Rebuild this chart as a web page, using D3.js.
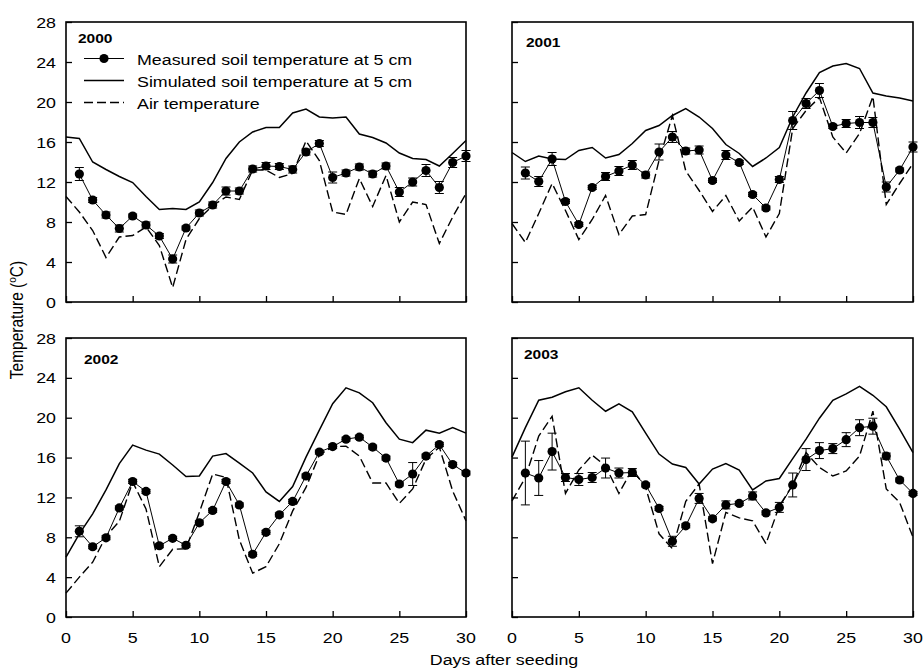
<!DOCTYPE html>
<html>
<head>
<meta charset="utf-8">
<script src="https://cdn.jsdelivr.net/npm/d3@7/dist/d3.min.js"></script>
<style>
  html, body { margin: 0; padding: 0; background: #fff; }
  svg { display: block; }
  text { font-family: "Liberation Sans", Arial, sans-serif; fill: #000; }
</style>
</head>
<body>
<svg id="chart" width="924" height="670"></svg>
<script>
// Days after seeding: measurements start on day 1, model and air series on day 0
const daysMeasured = [1,2,3,4,5,6,7,8,9,10,11,12,13,14,15,16,17,18,19,20,21,22,23,24,25,26,27,28,29,30];
const daysAll = [0,1,2,3,4,5,6,7,8,9,10,11,12,13,14,15,16,17,18,19,20,21,22,23,24,25,26,27,28,29,30];
const xTickValues = [0,5,10,15,20,25,30];
const yTickValues = [0,4,8,12,16,20,24,28];

// 2000
const measured2000 = [12.8,10.2,8.7,7.35,8.6,7.7,6.6,4.3,7.4,8.9,9.7,11.1,11.1,13.3,13.6,13.55,13.25,15.0,15.85,12.45,12.9,13.5,12.8,13.6,11.0,12.0,13.15,11.45,13.95,14.6];
const error2000 = [0.65,0.25,0.3,0.35,0.2,0.3,0.25,0.4,0.2,0.3,0.3,0.4,0.3,0.3,0.35,0.3,0.35,0.3,0.3,0.55,0.3,0.3,0.3,0.3,0.45,0.4,0.6,0.6,0.5,0.55];
const simulated2000 = [16.5,16.35,14.0,13.25,12.55,11.95,10.55,9.25,9.35,9.25,10.0,11.95,14.35,16.0,17.0,17.45,17.45,18.9,19.3,18.5,18.4,18.5,16.8,16.45,15.9,14.9,14.35,14.25,13.6,14.85,16.15];
const air2000 = [10.55,9.0,7.15,4.45,6.5,6.65,7.5,5.65,1.45,6.25,8.35,9.65,10.5,10.25,13.2,13.2,12.45,12.85,16.1,14.15,9.0,8.75,12.35,9.55,12.65,8.0,10.0,9.75,5.85,8.5,10.85];

// 2001
const measured2001 = [12.9,12.05,14.3,10.05,7.75,11.45,12.55,13.1,13.7,12.7,15.0,16.5,15.1,15.2,12.15,14.7,13.95,10.75,9.4,12.25,18.15,19.85,21.15,17.55,17.85,17.95,17.95,11.5,13.2,15.5];
const error2001 = [0.6,0.5,0.65,0.2,0.2,0.2,0.4,0.45,0.45,0.3,0.8,0.55,0.3,0.4,0.2,0.45,0.2,0.2,0.2,0.3,0.9,0.5,0.7,0.2,0.4,0.6,0.5,0.5,0.2,0.5];
const simulated2001 = [14.95,14.05,14.6,14.3,14.25,15.15,15.45,14.4,14.75,15.85,17.15,17.65,18.65,19.35,18.5,17.35,15.75,14.85,13.55,14.4,15.45,18.5,20.9,22.95,23.6,23.85,23.35,20.9,20.6,20.4,20.1];
const air2001 = [7.85,5.95,8.85,11.85,9.15,6.25,8.25,10.65,6.75,8.6,8.75,14.15,18.65,13.1,11.15,9.05,10.65,8.1,9.5,6.5,8.85,17.35,19.15,20.45,16.5,14.9,16.85,20.55,9.75,11.85,13.85];

// 2002
const measured2002 = [8.6,7.05,7.95,10.95,13.6,12.6,7.15,7.9,7.2,9.45,10.7,13.6,11.25,6.3,8.5,10.25,11.6,14.15,16.55,17.1,17.85,18.05,17.05,15.95,13.35,14.35,16.15,17.3,15.3,14.45];
const error2002 = [0.55,0.2,0.2,0.2,0.2,0.2,0.2,0.2,0.2,0.2,0.2,0.2,0.2,0.2,0.2,0.2,0.2,0.2,0.2,0.2,0.2,0.2,0.2,0.2,0.2,1.15,0.2,0.2,0.2,0.2];
const simulated2002 = [6.0,8.35,10.35,12.75,15.4,17.25,16.75,16.35,15.25,14.1,14.15,16.15,16.4,15.45,14.45,12.55,11.6,13.1,16.05,18.75,21.4,23.0,22.5,21.5,19.5,17.85,17.5,18.75,18.45,19.0,18.45];
const air2002 = [2.4,4.0,5.5,8.1,9.6,13.55,10.85,5.05,6.8,6.85,10.5,14.35,14.0,7.75,4.4,5.05,7.35,10.65,13.0,16.25,17.1,17.15,16.15,13.45,13.45,11.4,12.85,15.85,17.05,12.65,9.65];

// 2003
const measured2003 = [14.45,13.95,16.6,14.0,13.8,14.0,14.95,14.45,14.5,13.25,10.9,7.6,9.15,11.9,9.85,11.25,11.4,12.15,10.45,11.0,13.25,15.8,16.7,16.9,17.8,19.0,19.15,16.15,13.75,12.4];
const error2003 = [3.2,1.75,1.85,0.4,0.6,0.5,1.0,0.5,0.4,0.2,0.2,0.5,0.2,0.5,0.2,0.4,0.2,0.4,0.2,0.5,1.2,1.1,0.8,0.5,0.7,0.8,0.8,0.3,0.2,0.2];
const simulated2003 = [16.05,19.0,21.75,22.05,22.6,23.0,21.75,20.65,21.4,20.6,18.45,16.35,15.35,15.0,13.35,14.85,15.4,14.75,12.75,13.65,13.9,15.9,17.85,19.95,21.75,22.4,23.15,22.25,21.1,18.85,16.5];
const air2003 = [11.65,14.0,18.15,20.15,12.4,14.75,16.25,15.15,12.4,14.85,13.0,8.35,6.85,11.6,13.35,5.35,10.5,9.95,9.65,7.35,11.15,13.25,16.5,15.0,14.15,14.65,16.15,20.65,12.85,11.5,8.0];

const legendLabels = ["Measured soil temperature at 5 cm", "Simulated soil temperature at 5 cm", "Air temperature"];
const xAxisTitle = "Days after seeding";

const panels = [
  { year: "2000", measured: measured2000, error: error2000, simulated: simulated2000, air: air2000,
    left: 66, right: 466, bottom: 302, top: 22, yearX: 78, yearY: 43, yLabels: true, xLabels: false, legend: true },
  { year: "2001", measured: measured2001, error: error2001, simulated: simulated2001, air: air2001,
    left: 512, right: 913, bottom: 302, top: 22, yearX: 526, yearY: 47, yLabels: false, xLabels: false, legend: false },
  { year: "2002", measured: measured2002, error: error2002, simulated: simulated2002, air: air2002,
    left: 66, right: 466, bottom: 617, top: 338, yearX: 84, yearY: 364, yLabels: true, xLabels: true, legend: false },
  { year: "2003", measured: measured2003, error: error2003, simulated: simulated2003, air: air2003,
    left: 512, right: 913, bottom: 617, top: 338, yearX: 524, yearY: 359, yLabels: false, xLabels: true, legend: false }
];

const svg = d3.select("#chart");
const STRETCH = 1.15;      // glyphs are drawn slightly wide
const FONT = 15.5;
const AIR_DASH = "9,4";

// text helper: horizontally widened glyphs anchored at (x, y)
function label(g, x, y, str, opts = {}) {
  const t = g.append("text")
    .attr("transform", `translate(${x},${y}) scale(${STRETCH},1)`)
    .attr("text-anchor", opts.anchor || "start")
    .style("font-size", (opts.size || FONT) + "px")
    .style("font-weight", opts.bold ? "bold" : "normal")
    .text(str);
  return t;
}

panels.forEach(p => {
  const x = d3.scaleLinear().domain([0, 30]).range([p.left, p.right]);
  const y = d3.scaleLinear().domain([0, 28]).range([p.bottom, p.top]);
  const g = svg.append("g");

  // inward ticks
  const xAxis = d3.axisBottom(x).tickValues(xTickValues).tickSize(-6).tickFormat("");
  const yAxis = d3.axisLeft(y).tickValues(yTickValues).tickSize(-6).tickFormat("");
  const gx = g.append("g").attr("transform", `translate(0,${p.bottom})`).call(xAxis);
  const gy = g.append("g").attr("transform", `translate(${p.left},0)`).call(yAxis);
  [gx, gy].forEach(a => {
    a.select(".domain").remove();
    a.selectAll(".tick line").attr("stroke", "#000").attr("stroke-width", 1.3);
  });

  if (p.xLabels) {
    xTickValues.forEach(v => label(g, x(v), p.bottom + 26, String(v), { anchor: "middle" }));
  }
  if (p.yLabels) {
    yTickValues.forEach(v => label(g, p.left - 10, y(v) + 5.5, String(v), { anchor: "end" }));
  }

  // frame
  g.append("rect")
    .attr("x", p.left).attr("y", p.top)
    .attr("width", p.right - p.left).attr("height", p.bottom - p.top)
    .attr("fill", "none").attr("stroke", "#000").attr("stroke-width", 1.6);

  const line = d3.line().x(d => x(d[0])).y(d => y(d[1]));

  // air temperature (dashed)
  g.append("path")
    .datum(daysAll.map((d, i) => [d, p.air[i]]))
    .attr("d", line).attr("fill", "none").attr("stroke", "#000")
    .attr("stroke-width", 1.4).attr("stroke-dasharray", AIR_DASH);

  // simulated soil temperature (solid)
  g.append("path")
    .datum(daysAll.map((d, i) => [d, p.simulated[i]]))
    .attr("d", line).attr("fill", "none").attr("stroke", "#000")
    .attr("stroke-width", 1.5);

  // measured soil temperature: thin connecting line, error bars, filled circles
  const meas = daysMeasured.map((d, i) => ({ day: d, v: p.measured[i], e: p.error[i] }));
  g.append("path")
    .datum(meas.map(m => [m.day, m.v]))
    .attr("d", line).attr("fill", "none").attr("stroke", "#000").attr("stroke-width", 1);

  const eb = g.append("g").attr("stroke", "#000").attr("stroke-width", 1);
  meas.forEach(m => {
    const cx = x(m.day), yHi = y(m.v + m.e), yLo = y(m.v - m.e);
    eb.append("line").attr("x1", cx).attr("x2", cx).attr("y1", yHi).attr("y2", yLo);
    eb.append("line").attr("x1", cx - 4.5).attr("x2", cx + 4.5).attr("y1", yHi).attr("y2", yHi);
    eb.append("line").attr("x1", cx - 4.5).attr("x2", cx + 4.5).attr("y1", yLo).attr("y2", yLo);
  });

  g.selectAll("circle.meas").data(meas).enter().append("circle")
    .attr("class", "meas")
    .attr("cx", m => x(m.day)).attr("cy", m => y(m.v)).attr("r", 4.6)
    .attr("fill", "#000");

  // year tag
  label(g, p.yearX, p.yearY, p.year, { bold: true, size: 13.5 });

  if (p.legend) {
    const lg = g.append("g");
    const rows = [58.5, 80.5, 102.5];
    const x0 = 84, x1 = 124, tx = 137;
    lg.append("line").attr("x1", x0).attr("x2", x1).attr("y1", rows[0]).attr("y2", rows[0])
      .attr("stroke", "#000").attr("stroke-width", 1);
    lg.append("circle").attr("cx", (x0 + x1) / 2).attr("cy", rows[0]).attr("r", 4.6).attr("fill", "#000");
    lg.append("line").attr("x1", x0).attr("x2", x1).attr("y1", rows[1]).attr("y2", rows[1])
      .attr("stroke", "#000").attr("stroke-width", 1.5);
    lg.append("line").attr("x1", x0).attr("x2", x1).attr("y1", rows[2]).attr("y2", rows[2])
      .attr("stroke", "#000").attr("stroke-width", 1.4).attr("stroke-dasharray", AIR_DASH);
    legendLabels.forEach((s, i) => label(lg, tx, rows[i] + 6, s));
  }
});

// axis titles
label(svg, 504, 665, xAxisTitle, { anchor: "middle" });

const yTitle = svg.append("text")
  .attr("transform", `translate(23,320) rotate(-90) scale(1,${STRETCH})`)
  .attr("text-anchor", "middle")
  .style("font-size", FONT + "px");
yTitle.append("tspan").text("Temperature (");
yTitle.append("tspan").attr("dy", -6).style("font-size", "10px").text("o");
yTitle.append("tspan").attr("dy", 6).text("C)");
</script>
</body>
</html>
